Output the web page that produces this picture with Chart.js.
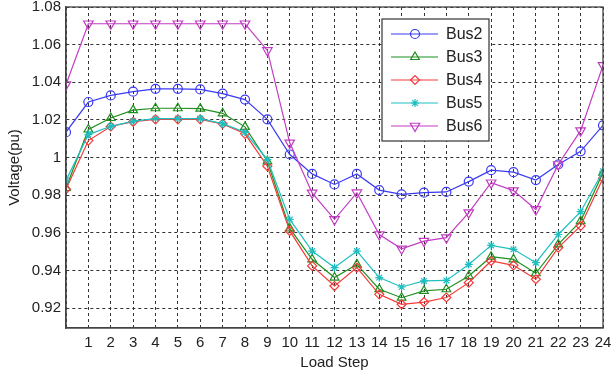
<!DOCTYPE html>
<html>
<head>
<meta charset="utf-8">
<script src="https://cdn.jsdelivr.net/npm/chart.js@4/dist/chart.umd.min.js"></script>
<style>
  body { margin: 0; background: #fff; }
</style>
</head>
<body>
<canvas id="chart" width="613" height="372"></canvas>
<script>
const steps = [0, 1, 2, 3, 4, 5, 6, 7, 8, 9, 10, 11, 12, 13, 14, 15, 16, 17, 18, 19, 20, 21, 22, 23, 24];
const yTicks = [0.92, 0.94, 0.96, 0.98, 1.00, 1.02, 1.04, 1.06, 1.08];

const bus2 = [1.0135, 1.0295, 1.0330, 1.0350, 1.0365, 1.0365, 1.0362, 1.0340, 1.0308, 1.0203, 1.0016, 0.9913, 0.9857,
  0.9913, 0.9827, 0.9804, 0.9813, 0.9817, 0.9872, 0.9933, 0.9922, 0.9880, 0.9963, 1.0033, 1.0171];
const bus3 = [0.9838, 1.0149, 1.0210, 1.0252, 1.0262, 1.0262, 1.0260, 1.0235, 1.0163, 0.9980, 0.9623, 0.9459, 0.9362,
  0.9432, 0.9300, 0.9255, 0.9291, 0.9300, 0.9370, 0.9473, 0.9459, 0.9385, 0.9538, 0.9662, 0.9919];
const bus4 = [0.9832, 1.0090, 1.0165, 1.0190, 1.0203, 1.0203, 1.0203, 1.0179, 1.0126, 0.9954, 0.9610, 0.9424, 0.9317,
  0.9415, 0.9273, 0.9220, 0.9232, 0.9256, 0.9335, 0.9450, 0.9427, 0.9353, 0.9521, 0.9636, 0.9890];
const bus5 = [0.9878, 1.0122, 1.0166, 1.0193, 1.0207, 1.0207, 1.0207, 1.0180, 1.0134, 0.9989, 0.9671, 0.9503, 0.9415,
  0.9503, 0.9362, 0.9312, 0.9344, 0.9347, 0.9432, 0.9533, 0.9512, 0.9441, 0.9591, 0.9712, 0.9927];
const bus6 = [1.0388, 1.0711, 1.0711, 1.0711, 1.0711, 1.0711, 1.0711, 1.0711, 1.0711, 1.0569, 1.0078, 0.9812, 0.9671,
  0.9813, 0.9591, 0.9515, 0.9556, 0.9574, 0.9707, 0.9866, 0.9824, 0.9724, 0.9963, 1.0143, 1.0490];

const FONT = "'Liberation Sans', Arial, sans-serif";
const TXT = '#222';

function series(label, values, color, style, radius, rotation, order) {
  return {
    label: label,
    data: values.map((v, i) => ({ x: steps[i], y: v })),
    borderColor: color,
    borderWidth: 1.2,
    pointStyle: style,
    pointRadius: radius,
    pointRotation: rotation,
    pointBorderColor: color,
    pointBorderWidth: 1.2,
    pointBackgroundColor: 'rgba(0,0,0,0)',
    order: order,
    tension: 0
  };
}

// MATLAB-like box around the axes plus the legend inside the plot
const boxLegend = {
  id: 'boxLegend',
  afterDraw(chart) {
    const ctx = chart.ctx;
    const a = chart.chartArea;
    ctx.save();
    ctx.strokeStyle = '#444';
    ctx.lineWidth = 1.3;
    ctx.strokeRect(a.left, a.top, a.right - a.left, a.bottom - a.top);

    const bx = a.left + 316, by = a.top + 12, bw = 107, bh = 122;
    ctx.fillStyle = '#fff';
    ctx.fillRect(bx, by, bw, bh);
    ctx.strokeStyle = '#333';
    ctx.lineWidth = 1.2;
    ctx.strokeRect(bx, by, bw, bh);

    ctx.font = '16px ' + FONT;
    ctx.textBaseline = 'middle';
    chart.data.datasets.forEach((ds, i) => {
      const y = by + 15 + i * 23;
      ctx.strokeStyle = ds.borderColor;
      ctx.lineWidth = 1.2;
      ctx.beginPath();
      ctx.moveTo(bx + 9, y);
      ctx.lineTo(bx + 56, y);
      ctx.stroke();
      ctx.fillStyle = 'rgba(0,0,0,0)';
      Chart.helpers.drawPoint(ctx, {
        pointStyle: ds.pointStyle, radius: ds.pointRadius,
        rotation: ds.pointRotation, borderWidth: 1.2
      }, bx + 33, y);
      ctx.fillStyle = TXT;
      ctx.fillText(ds.label, bx + 64, y + 1);
    });
    ctx.restore();
  }
};

new Chart(document.getElementById('chart'), {
  type: 'line',
  data: {
    datasets: [
      series('Bus2', bus2, '#3a3af5', 'circle', 4.5, 0, 4),
      series('Bus3', bus3, '#1f8f1f', 'triangle', 5, 0, 3),
      series('Bus4', bus4, '#f53a3a', 'rectRot', 4.5, 0, 2),
      series('Bus5', bus5, '#1fbfbf', 'star', 4, 0, 1),
      series('Bus6', bus6, '#c23cc2', 'triangle', 5.5, 180, 0)
    ]
  },
  options: {
    responsive: false,
    animation: false,
    layout: { padding: { top: 7, right: 10, left: 0, bottom: 0 } },
    plugins: {
      legend: { display: false },
      tooltip: { enabled: false }
    },
    scales: {
      x: {
        type: 'linear',
        min: 0,
        max: 24,
        afterFit: s => { s.height = 44; s.paddingRight = 0; s.paddingLeft = 0; },
        afterBuildTicks: s => { s.ticks = steps.map(v => ({ value: v })); },
        ticks: {
          autoSkip: false,
          maxRotation: 0,
          padding: 6,
          color: TXT,
          font: { family: FONT, size: 15 },
          callback: v => (v === 0 ? '' : String(v))
        },
        grid: { color: '#333', lineWidth: 1, drawTicks: false },
        border: { display: true, color: '#444', width: 1.3, dash: [3, 3] },
        title: {
          display: true,
          text: 'Load Step',
          color: TXT,
          font: { family: FONT, size: 15 },
          padding: { top: 0, bottom: 0 }
        }
      },
      y: {
        min: 0.9094,
        max: 1.08,
        afterFit: s => { s.width = 66; s.paddingTop = 0; s.paddingBottom = 0; },
        afterBuildTicks: s => { s.ticks = yTicks.map(v => ({ value: v })); },
        ticks: {
          padding: 5,
          color: TXT,
          font: { family: FONT, size: 15 },
          callback: v => String(Number(v.toFixed(2)))
        },
        grid: { color: '#333', lineWidth: 1, drawTicks: false },
        border: { display: true, color: '#444', width: 1.3, dash: [3, 3] },
        title: {
          display: true,
          text: 'Voltage(pu)',
          color: TXT,
          font: { family: FONT, size: 15 },
          padding: { top: 6, bottom: 0 }
        }
      }
    }
  },
  plugins: [boxLegend]
});
</script>
</body>
</html>
